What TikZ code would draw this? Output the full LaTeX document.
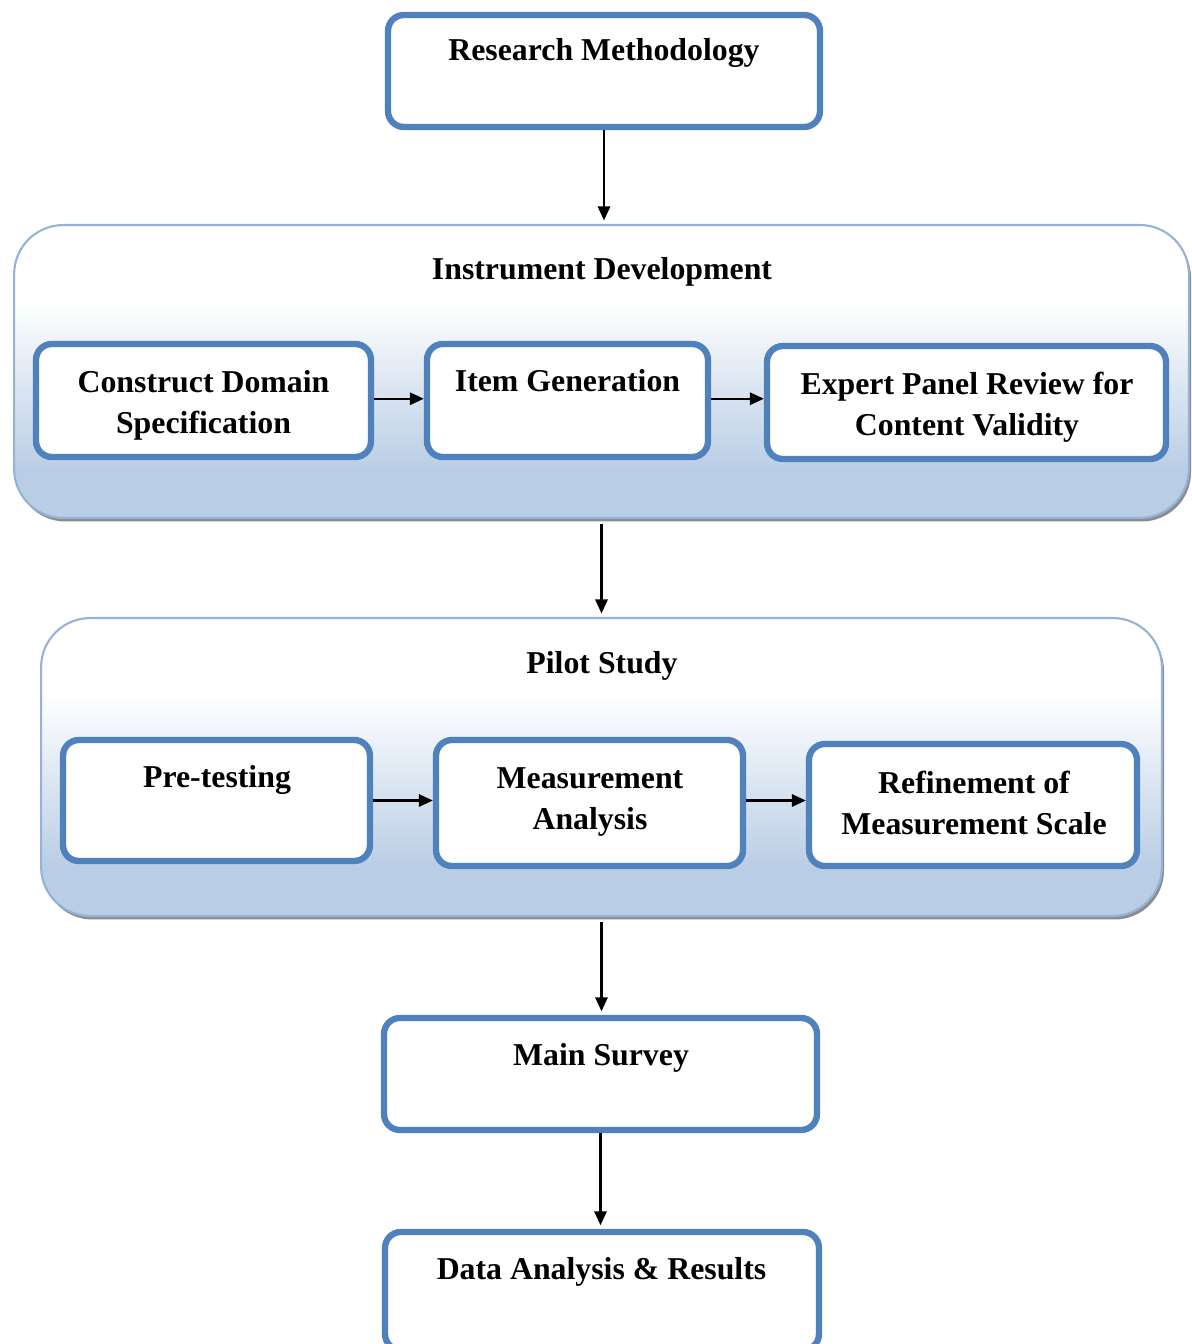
\documentclass[tikz,border=0pt]{standalone}
\usepackage{fontspec}
\setmainfont{Liberation Serif}
\usetikzlibrary{arrows.meta,positioning,shadows}
\definecolor{boxblue}{RGB}{79,129,189}
\definecolor{panelline}{RGB}{149,179,215}
\definecolor{panelfill}{RGB}{185,205,229}
\pgfdeclareverticalshading{panelshade}{100bp}{color(0bp)=(panelfill); color(33bp)=(panelfill); color(62bp)=(white); color(100bp)=(white)}
\tikzset{
  stepbox/.style={draw=boxblue, line width=3.6pt, rounded corners=9pt, fill=white},
  panel/.style={draw=panelline, line width=1.2pt, rounded corners=28pt, shading=panelshade,
    drop shadow={shadow xshift=1.2pt, shadow yshift=-2pt, fill=black!45, opacity=1}},
  lbl/.style={font=\bfseries\fontsize{18.1}{23.2}\selectfont, align=center, anchor=base, inner sep=0pt},
  flow/.style={-{Triangle[length=8pt,width=7pt]}, line width=1.3pt},
}
\begin{document}
\begin{tikzpicture}[x=0.02cm, y=-0.02cm]
    \useasboundingbox (0,0) rectangle (1192,1344);
    \clip (0,0) rectangle (1192,1344);
    % Research methodology
    \node[stepbox, minimum width=8.64cm, minimum height=2.24cm] (resm) at (604,71) {};
    \node[lbl] (resm-t) at (604,61) {Research Methodology};
    % Instrument development
    \node[panel, minimum width=23.5cm, minimum height=5.86cm] (instr) at (601.5,371.5) {};
    \node[lbl] (instr-t) at (602,280) {Instrument Development};
    \node[stepbox, minimum width=6.7cm, minimum height=2.26cm] (cds) at (203.5,400.5) {};
    \node[lbl] (cds-t) at (203.5,433) {Construct Domain\\Specification};
    \node[stepbox, minimum width=5.62cm, minimum height=2.26cm] (itgen) at (567.5,400.5) {};
    \node[lbl] (itgen-t) at (567.5,392) {Item Generation};
    \node[stepbox, minimum width=7.98cm, minimum height=2.26cm] (expert) at (966.5,402.5) {};
    \node[lbl] (expert-t) at (967,435) {Expert Panel Review for\\Content Validity};
    % Pilot study
    \node[panel, minimum width=22.42cm, minimum height=5.96cm] (pilot) at (601.5,767) {};
    \node[lbl] (pilot-t) at (602,673) {Pilot Study};
    \node[stepbox, minimum width=6.14cm, minimum height=2.42cm] (pretest) at (216.5,800.5) {};
    \node[lbl] (pretest-t) at (217,787) {Pre-testing};
    \node[stepbox, minimum width=6.14cm, minimum height=2.52cm] (meas) at (589.5,803) {};
    \node[lbl] (meas-t) at (590,829) {Measurement\\Analysis};
    \node[stepbox, minimum width=6.56cm, minimum height=2.44cm] (refine) at (973,805) {};
    \node[lbl] (refine-t) at (974,834) {Refinement of\\Measurement Scale};
    % Main survey and results
    \node[stepbox, minimum width=8.66cm, minimum height=2.24cm] (main) at (600.5,1074) {};
    \node[lbl] (main-t) at (601,1065) {Main Survey};
    \node[stepbox, minimum width=8.68cm, minimum height=2.36cm] (data) at (602,1291) {};
    \node[lbl] (data-t) at (601.5,1279) {Data Analysis \& Results};
    % Arrows
    \draw[flow, shorten >=2pt] (resm.south) -- (resm.south |- instr.north);
    \draw[flow] ([yshift=1pt]cds.east) -- ([yshift=1pt]cds.east -| itgen.west);
    \draw[flow] ([yshift=1pt]itgen.east) -- ([yshift=1pt]itgen.east -| expert.west);
    \draw[flow, shorten <=3pt, shorten >=2pt] (instr.south) -- (pilot.north);
    \draw[flow] (pretest.east) -- (pretest.east -| meas.west);
    \draw[flow] (meas.east |- pretest.east) -- (refine.west |- pretest.east);
    \draw[flow, shorten <=3pt, shorten >=2pt] (pilot.south) -- (pilot.south |- main.north);
    \draw[flow, shorten >=2pt] (main.south) -- (main.south |- data.north);
\end{tikzpicture}
\end{document}
